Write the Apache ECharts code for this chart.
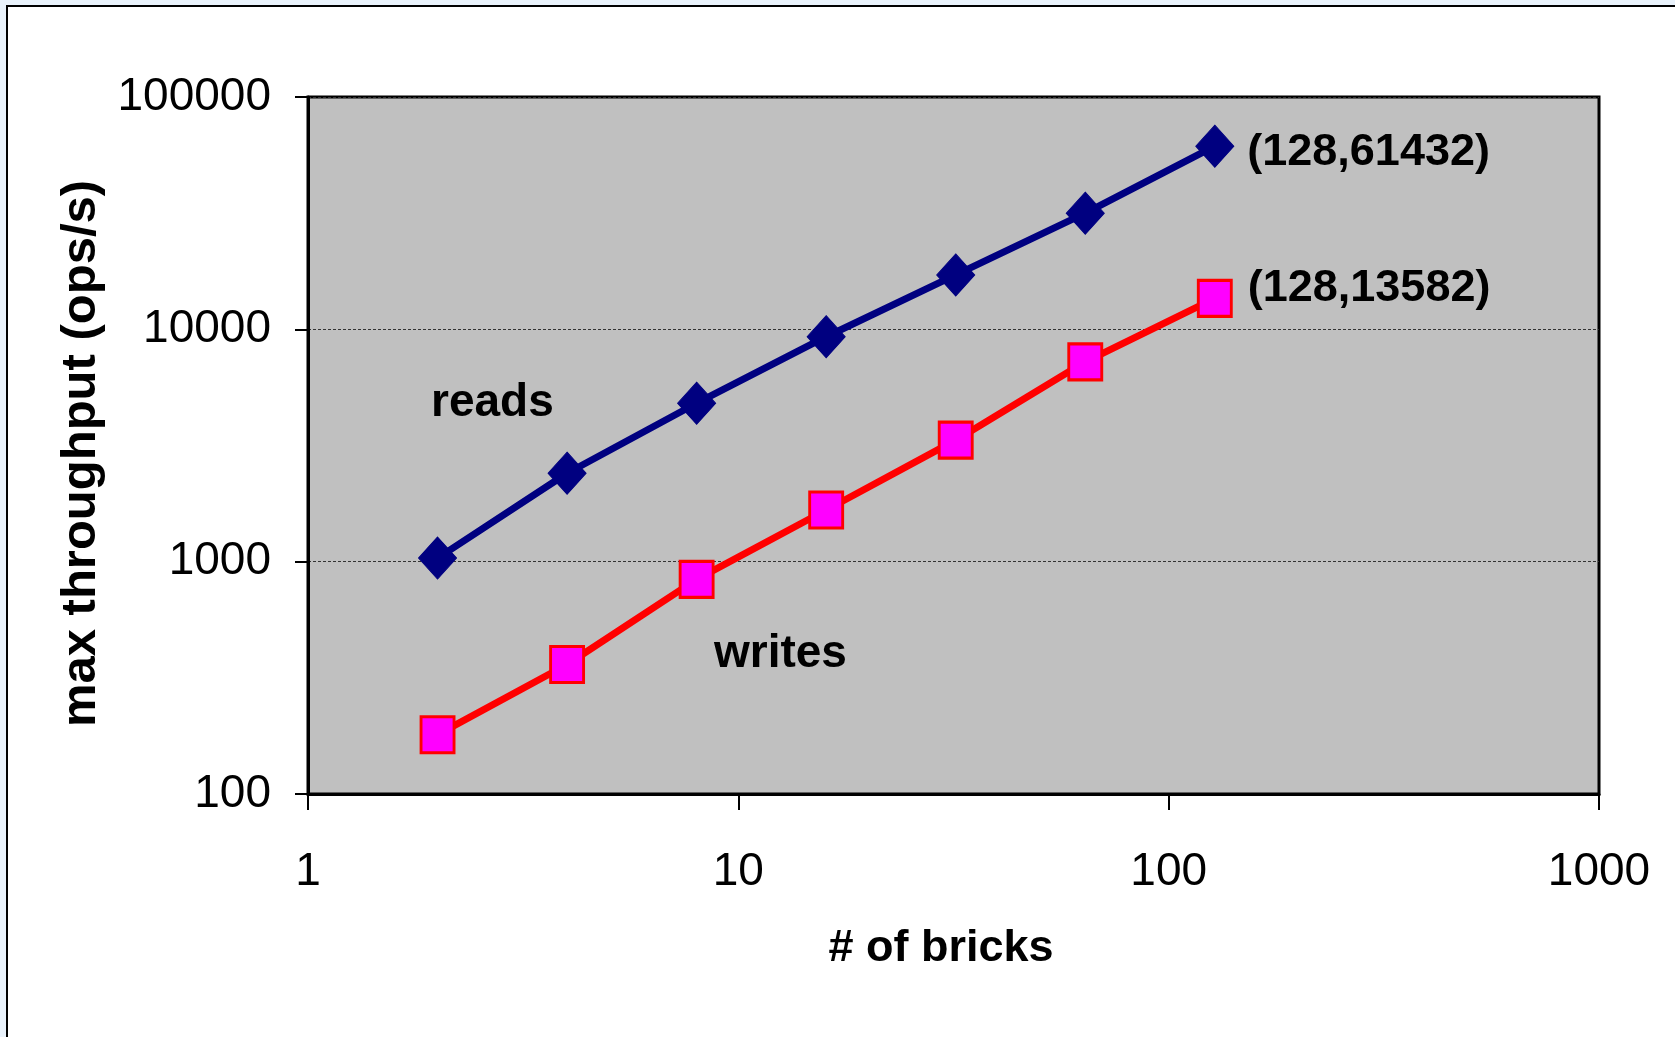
<!DOCTYPE html>
<html>
<head>
<meta charset="utf-8">
<script src="https://cdn.jsdelivr.net/npm/echarts@6/dist/echarts.min.js"></script>
<style>
  html, body { margin: 0; padding: 0; background: #e9f2fb; }
  #chart { width: 1675px; height: 1037px; }
</style>
</head>
<body>
<div id="chart"></div>
<script>
// Data
var bricks = [2, 4, 8, 16, 32, 64, 128];
var readsThroughput = [1036, 2403, 4808, 9293, 17140, 31620, 61432];
var writesThroughput = [180, 361, 839, 1669, 3335, 7245, 13582];
var xTickLabels = ['1', '10', '100', '1000'];
var yTickLabels = ['100', '1000', '10000', '100000'];
var xAxisTitle = '# of bricks';
var yAxisTitle = 'max throughput (ops/s)';
var readsName = 'reads';
var writesName = 'writes';

var FONT = '"Liberation Sans", Arial, sans-serif';

function pairs(xs, ys) {
  return xs.map(function (x, i) { return [x, ys[i]]; });
}
function endLabel(xs, ys) {
  var last = xs.length - 1;
  return function (p) {
    return p.dataIndex === last ? '(' + xs[last] + ',' + ys[last] + ')' : '';
  };
}

var chart = echarts.init(document.getElementById('chart'), null, { renderer: 'canvas' });

var option = {
  backgroundColor: 'transparent',
  animation: false,
  graphic: [
    {
      type: 'rect', z: -100, silent: true,
      shape: { x: 7, y: 6, width: 1720, height: 1100 },
      style: { fill: '#ffffff', stroke: '#000000', lineWidth: 2 }
    },
    {
      type: 'text', z: 100, left: 431, top: 380,
      style: { text: readsName, font: 'bold 46px ' + FONT, fill: '#000' }
    },
    {
      type: 'text', z: 100, left: 714, top: 631,
      style: { text: writesName, font: 'bold 46px ' + FONT, fill: '#000' }
    }
  ],
  grid: {
    left: 308, right: 76, top: 97, bottom: 243,
    show: true, backgroundColor: '#c0c0c0', borderColor: '#000', borderWidth: 3
  },
  xAxis: {
    type: 'log', logBase: 10, min: 1, max: 1000,
    name: xAxisTitle, nameLocation: 'middle', nameGap: 132,
    nameTextStyle: { fontFamily: FONT, fontWeight: 'bold', fontSize: 45, color: '#000', padding: [0, 25, 0, 0] },
    axisLine: { show: true, lineStyle: { color: '#000', width: 3 } },
    axisTick: { show: true, inside: false, length: 16, lineStyle: { color: '#000', width: 2 } },
    minorTick: { show: false },
    splitLine: { show: false },
    axisLabel: {
      fontFamily: FONT, fontSize: 46, color: '#000', margin: 55,
      formatter: function (v) {
        var i = Math.round(Math.log10(v));
        return xTickLabels[i] !== undefined ? xTickLabels[i] : '';
      }
    }
  },
  yAxis: {
    type: 'log', logBase: 10, min: 100, max: 100000,
    name: yAxisTitle, nameLocation: 'middle', nameGap: 202, nameRotate: 90,
    nameTextStyle: { fontFamily: FONT, fontWeight: 'bold', fontSize: 49, color: '#000', padding: [0, 16, 0, 0] },
    axisLine: { show: true, lineStyle: { color: '#000', width: 3 } },
    axisTick: { show: true, inside: false, length: 13, lineStyle: { color: '#000', width: 2 } },
    minorTick: { show: false },
    splitLine: { show: true, lineStyle: { color: '#333', width: 1, type: [3, 2] } },
    axisLabel: {
      fontFamily: FONT, fontSize: 46, color: '#000', margin: 37,
      verticalAlign: 'middle', padding: [9, 0, 0, 0],
      formatter: function (v) {
        var i = Math.round(Math.log10(v)) - 2;
        return yTickLabels[i] !== undefined ? yTickLabels[i] : '';
      }
    }
  },
  series: [
    {
      name: readsName, type: 'line',
      data: pairs(bricks, readsThroughput),
      symbol: 'diamond', symbolSize: [38, 42],
      lineStyle: { color: '#000080', width: 7 },
      itemStyle: { color: '#000080', borderColor: '#000080', borderWidth: 1 },
      label: {
        show: true, position: 'right', distance: 13,
        formatter: endLabel(bricks, readsThroughput),
        fontFamily: FONT, fontWeight: 'bold', fontSize: 45, color: '#000', offset: [0, 6]
      },
      z: 3
    },
    {
      name: writesName, type: 'line',
      data: pairs(bricks, writesThroughput),
      symbol: 'rect', symbolSize: [33, 36],
      lineStyle: { color: '#ff0000', width: 7 },
      itemStyle: { color: '#ff00ff', borderColor: '#ff0000', borderWidth: 3 },
      label: {
        show: true, position: 'right', distance: 15,
        formatter: endLabel(bricks, writesThroughput),
        fontFamily: FONT, fontWeight: 'bold', fontSize: 45, color: '#000', offset: [0, -10]
      },
      z: 4
    }
  ]
};

chart.setOption(option);
</script>
</body>
</html>
